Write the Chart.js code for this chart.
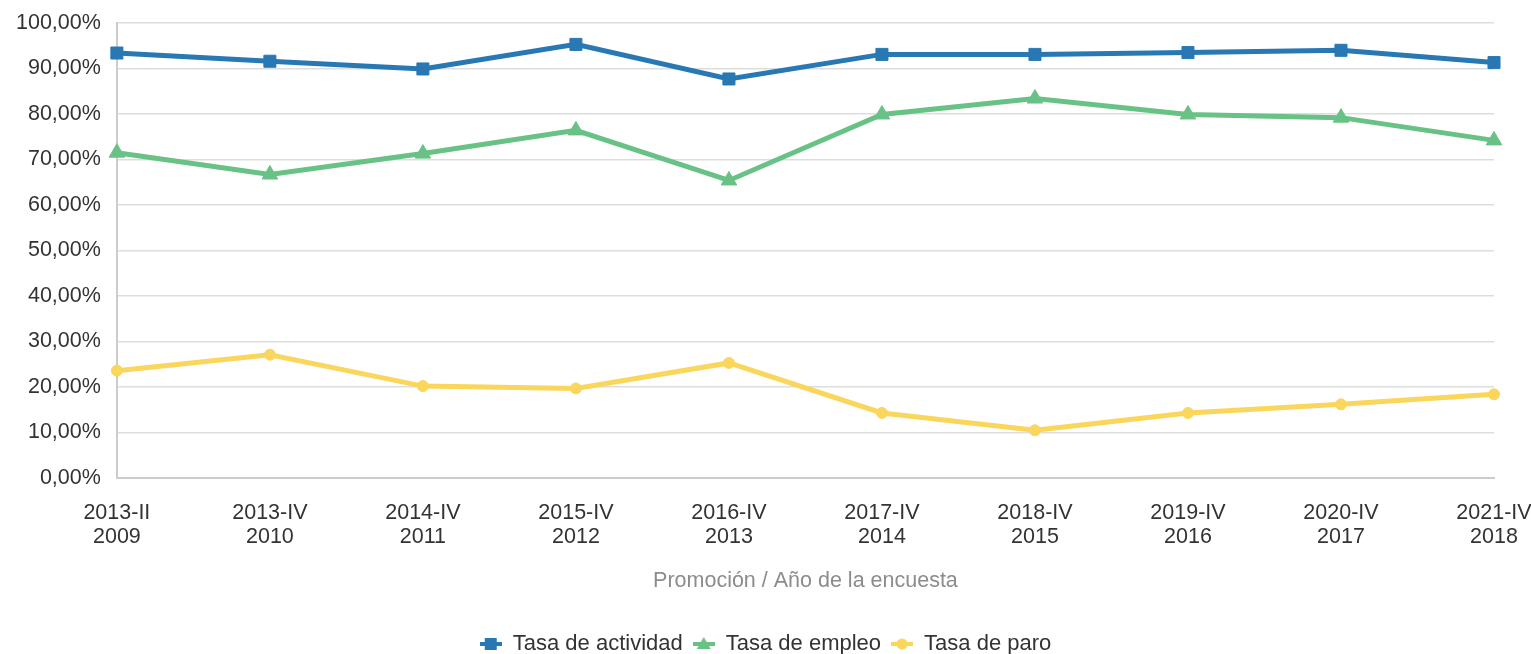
<!DOCTYPE html>
<html>
<head>
<meta charset="utf-8">
<script src="https://cdn.jsdelivr.net/npm/chart.js@4/dist/chart.umd.min.js"></script>
<style>
  html, body { margin: 0; padding: 0; background: #fff; }
  #wrap { width: 1531px; height: 654px; position: relative; }
</style>
</head>
<body>
<div id="wrap"><canvas id="c" width="1531" height="654"></canvas></div>
<script>
const categories = [
  ["2013-II", "2009"], ["2013-IV", "2010"], ["2014-IV", "2011"], ["2015-IV", "2012"],
  ["2016-IV", "2013"], ["2017-IV", "2014"], ["2018-IV", "2015"], ["2019-IV", "2016"],
  ["2020-IV", "2017"], ["2021-IV", "2018"]
];
const tasaActividad = [93.4, 91.6, 89.9, 95.3, 87.7, 93.1, 93.1, 93.5, 94.0, 91.3];
const tasaEmpleo    = [71.5, 66.7, 71.3, 76.4, 65.4, 79.9, 83.4, 79.9, 79.2, 74.2];
const tasaParo      = [23.6, 27.1, 20.2, 19.7, 25.3, 14.3, 10.5, 14.3, 16.2, 18.4];
const seriesNames = ["Tasa de actividad", "Tasa de empleo", "Tasa de paro"];
const xAxisTitle = "Promoción / Año de la encuesta";

const FONT = "'Liberation Sans', Arial, sans-serif";
const FS = 21.5;
const blue = "#2878b4", green = "#69c285", yellow = "#fad65c";

function legendIcon(color, style) {
  const c = document.createElement('canvas');
  c.width = 22; c.height = 16;
  const g = c.getContext('2d');
  g.fillStyle = color; g.strokeStyle = color;
  g.lineWidth = 4;
  g.beginPath(); g.moveTo(0, 8); g.lineTo(22, 8); g.stroke();
  g.beginPath();
  if (style === 'rect') { g.rect(5, 2, 12, 12); }
  else if (style === 'triangle') { g.moveTo(11, 1); g.lineTo(18, 13); g.lineTo(4, 13); g.closePath(); }
  else { g.arc(11, 8, 5.5, 0, Math.PI * 2); }
  g.fill();
  return c;
}

const pointStyles = ['rect', 'triangle', 'circle'];
const colors = [blue, green, yellow];

new Chart(document.getElementById('c'), {
  type: 'line',
  data: {
    labels: categories,
    datasets: [
      { label: seriesNames[0], data: tasaActividad, borderColor: blue, backgroundColor: blue,
        borderWidth: 5, pointBorderWidth: 1, pointStyle: 'rect', pointRadius: 8.5, pointHoverRadius: 8.5, tension: 0 },
      { label: seriesNames[1], data: tasaEmpleo, borderColor: green, backgroundColor: green,
        borderWidth: 5, pointBorderWidth: 1, pointStyle: 'triangle', pointRadius: 9, pointHoverRadius: 9, tension: 0 },
      { label: seriesNames[2], data: tasaParo, borderColor: yellow, backgroundColor: yellow,
        borderWidth: 5, pointBorderWidth: 1, pointStyle: 'circle', pointRadius: 5.5, pointHoverRadius: 5.5, tension: 0 }
    ]
  },
  options: {
    responsive: false,
    animation: false,
    layout: { padding: { top: 23, right: 0, left: 0, bottom: -11 } },
    plugins: {
      tooltip: { enabled: false },
      legend: {
        position: 'bottom',
        labels: {
          usePointStyle: true,
          padding: 10,
          color: '#333',
          font: { family: FONT, size: 22 },
          generateLabels: (chart) => chart.data.datasets.map((ds, i) => ({
            text: ds.label,
            fillStyle: colors[i],
            strokeStyle: colors[i],
            lineWidth: 0,
            pointStyle: legendIcon(colors[i], pointStyles[i]),
            hidden: false,
            datasetIndex: i,
            fontColor: '#333'
          }))
        }
      }
    },
    scales: {
      x: {
        offset: false,
        afterFit: (s) => { s.paddingRight = 37; s.paddingLeft = 0; },
        grid: { display: false, drawTicks: false },
        border: { color: '#cccccc', width: 2 },
        ticks: { color: '#333', font: { family: FONT, size: FS, lineHeight: 1.12 }, padding: 23, maxRotation: 0, autoSkip: false },
        title: { display: true, text: xAxisTitle, color: '#8c8c8c', font: { family: FONT, size: FS }, padding: { top: -4, bottom: 29 } }
      },
      y: {
        min: 0, max: 100,
        afterFit: (s) => { s.paddingTop = 0; },
        ticks: { stepSize: 10, color: '#333', font: { family: FONT, size: FS }, padding: 16,
          callback: v => v.toFixed(2).replace('.', ',') + '%' },
        grid: { color: '#dddddd', lineWidth: 1.5, drawTicks: false },
        border: { color: '#cccccc', width: 2 }
      }
    }
  }
});
</script>
</body>
</html>
